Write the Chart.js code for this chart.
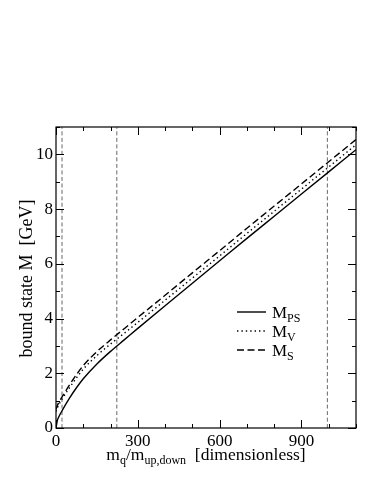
<!DOCTYPE html>
<html>
<head>
<meta charset="utf-8">
<script src="https://cdn.jsdelivr.net/npm/chart.js@4"></script>
<style>
html, body {margin:0; padding:0; background:#fff;}
#wrap {width:374px; height:484px;}
</style>
</head>
<body>
<div id="wrap"><canvas id="chart" width="374" height="484"></canvas></div>
<script>
// data
const massRatio = [0, 5, 10, 25, 50, 75, 100, 150, 200, 250, 300, 400, 500, 600, 700, 800, 900, 1000, 1100];
const massPS = [0.0, 0.28, 0.4, 0.68, 1.1, 1.47, 1.8, 2.34, 2.8, 3.22, 3.64, 4.47, 5.29, 6.11, 6.93, 7.74, 8.55, 9.36, 10.17];
const massV  = [0.6, 0.74, 0.85, 1.1, 1.48, 1.83, 2.15, 2.65, 3.07, 3.46, 3.86, 4.67, 5.48, 6.29, 7.11, 7.92, 8.73, 9.54, 10.35];
const massS  = [0.68, 0.82, 0.93, 1.18, 1.58, 1.95, 2.28, 2.79, 3.22, 3.63, 4.04, 4.85, 5.67, 6.48, 7.3, 8.11, 8.92, 9.73, 10.54];
const quarkLines = [22, 223, 995];
const xTicks = [0, 300, 600, 900];
const yTicks = [0, 2, 4, 6, 8, 10];
const xMinorStep = 100;
const yMinorStep = 1;
const xMax = 1100;
const yMax = 11;

const serif = "'Liberation Serif', 'DejaVu Serif', serif";

let toPoints = function(ys) {
    return massRatio.map(function(x, i) { return {x: x, y: ys[i]}; });
};

let datasets = [
    {data: toPoints(massPS), borderColor: '#000', borderWidth: 1.4, borderDash: []},
    {data: toPoints(massV),  borderColor: '#000', borderWidth: 1.4, borderDash: [1.4, 3]},
    {data: toPoints(massS),  borderColor: '#000', borderWidth: 1.4, borderDash: [7, 3.5]}
];
quarkLines.forEach(function(q) {
    datasets.push({
        data: [{x: q, y: 0}, {x: q, y: yMax}],
        borderColor: '#666', borderWidth: 1, borderDash: [4, 2.5]
    });
});
datasets.forEach(function(d) {
    d.pointRadius = 0;
    d.fill = false;
    d.tension = 0.4;
    d.cubicInterpolationMode = 'monotone';
});

// text with subscript
let drawSub = function(ctx, x, y, parts, size) {
    let cx = x;
    parts.forEach(function(p) {
        ctx.font = (p.sub ? Math.round(size * 0.68) : size) + 'px ' + serif;
        ctx.fillText(p.t, cx, y + (p.sub ? 4 : 0));
        cx += ctx.measureText(p.t).width;
    });
    return cx - x;
};
let measureSub = function(ctx, parts, size) {
    let w = 0;
    parts.forEach(function(p) {
        ctx.font = (p.sub ? Math.round(size * 0.68) : size) + 'px ' + serif;
        w += ctx.measureText(p.t).width;
    });
    return w;
};

const framePlugin = {
    id: 'frame',
    afterDraw: function(chart) {
        const ctx = chart.ctx;
        const a = chart.chartArea;
        const xs = chart.scales.x;
        const ys = chart.scales.y;
        ctx.save();
        ctx.strokeStyle = '#000';
        ctx.lineWidth = 1.2;
        ctx.setLineDash([]);
        ctx.strokeRect(a.left, a.top, a.right - a.left, a.bottom - a.top);

        // ticks inside
        ctx.lineWidth = 1;
        ctx.beginPath();
        for (let v = 0; v <= xMax; v += xMinorStep) {
            const px = Math.round(xs.getPixelForValue(v)) + 0.5;
            const len = xTicks.indexOf(v) >= 0 ? 8 : 4;
            ctx.moveTo(px, a.bottom); ctx.lineTo(px, a.bottom - len);
            ctx.moveTo(px, a.top); ctx.lineTo(px, a.top + len);
        }
        for (let v = 0; v <= yMax; v += yMinorStep) {
            const py = Math.round(ys.getPixelForValue(v)) + 0.5;
            const len = yTicks.indexOf(v) >= 0 ? 8 : 4;
            ctx.moveTo(a.left, py); ctx.lineTo(a.left + len, py);
            ctx.moveTo(a.right, py); ctx.lineTo(a.right - len, py);
        }
        ctx.stroke();

        ctx.fillStyle = '#000';
        ctx.textBaseline = 'alphabetic';
        ctx.textAlign = 'left';

        // x title
        const xParts = [{t: 'm'}, {t: 'q', sub: true}, {t: '/m'}, {t: 'up,down', sub: true}, {t: '  [dimensionless]'}];
        const xw = measureSub(ctx, xParts, 17.5);
        drawSub(ctx, (a.left + a.right) / 2 - xw / 2, 460, xParts, 17.5);

        // y title
        ctx.save();
        ctx.translate(27, (a.top + a.bottom) / 2 + 1);
        ctx.rotate(-Math.PI / 2);
        ctx.font = '18px ' + serif;
        ctx.textAlign = 'center';
        ctx.textBaseline = 'middle';
        ctx.fillText('bound state M  [GeV]', 0, 0);
        ctx.restore();

        // legend
        const rows = [
            {dash: [], sub: 'PS', y: 312},
            {dash: [1.4, 3], sub: 'V', y: 331},
            {dash: [7, 3.5], sub: 'S', y: 350}
        ];
        rows.forEach(function(r) {
            ctx.beginPath();
            ctx.lineWidth = 1.4;
            ctx.setLineDash(r.dash);
            ctx.moveTo(237, r.y); ctx.lineTo(266, r.y);
            ctx.stroke();
            ctx.setLineDash([]);
            ctx.textAlign = 'left';
            drawSub(ctx, 272, r.y + 6, [{t: 'M'}, {t: r.sub, sub: true}], 17);
        });
        ctx.restore();
    }
};

new Chart(document.getElementById('chart'), {
    type: 'line',
    data: {datasets: datasets},
    options: {
        responsive: false,
        animation: false,
        layout: {padding: {top: 127, right: 18, left: 0, bottom: 0}},
        plugins: {legend: {display: false}, tooltip: {enabled: false}},
        scales: {
            x: {
                type: 'linear',
                min: 0, max: xMax,
                afterBuildTicks: function(s) { s.ticks = xTicks.map(function(v) { return {value: v}; }); },
                afterFit: function(s) { s.height = 56; },
                grid: {display: false, drawTicks: false},
                border: {display: false},
                ticks: {color: '#000', padding: 3, maxRotation: 0, font: {family: serif, size: 17}}
            },
            y: {
                type: 'linear',
                min: 0, max: yMax,
                afterBuildTicks: function(s) { s.ticks = yTicks.map(function(v) { return {value: v}; }); },
                afterFit: function(s) { s.width = 56; },
                grid: {display: false, drawTicks: false},
                border: {display: false},
                ticks: {color: '#000', padding: 3, font: {family: serif, size: 17}}
            }
        }
    },
    plugins: [framePlugin]
});
</script>
</body>
</html>
